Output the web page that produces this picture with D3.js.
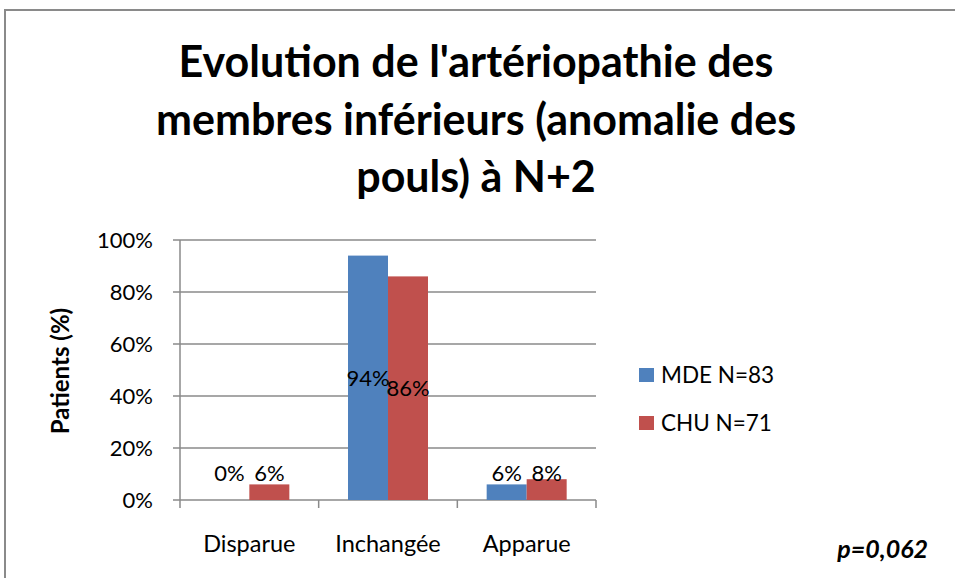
<!DOCTYPE html>
<html>
<head>
<meta charset="utf-8">
<script src="https://cdn.jsdelivr.net/npm/d3@7"></script>
<style>
  body { margin: 0; background: #fff; }
  svg text { font-family: Lato, "Open Sans", sans-serif; fill: #000; }
</style>
</head>
<body>
<svg id="chart" width="955" height="578"></svg>
<script>
// données
var categories = ["Disparue", "Inchangée", "Apparue"];
var seriesNames = ["MDE N=83", "CHU N=71"];
var mdeValues = [0, 0.94, 0.06];
var chuValues = [0.06, 0.86, 0.08];
var yTicks = [0, 0.2, 0.4, 0.6, 0.8, 1];
var titleLines = ["Evolution de l'artériopathie des", "membres inférieurs (anomalie des", "pouls) à N+2"];

var colors = ["#4F81BD", "#C0504D"];

var svg = d3.select("#chart");

// cadre du graphique (coupé à droite et en bas)
svg.append("rect")
    .attr("x", 5).attr("y", 10)
    .attr("width", 1000).attr("height", 700)
    .attr("fill", "none")
    .attr("stroke", "#8a8a8a")
    .attr("stroke-width", 2);

// titre
svg.append("g").selectAll("text")
    .data(titleLines)
    .enter().append("text")
    .attr("x", 476)
    .attr("y", function (d, i) { return 77 + i * 57.5; })
    .attr("text-anchor", "middle")
    .attr("font-size", 43)
    .attr("font-weight", "bold")
    .text(function (d) { return d; });

var plot = { left: 180, right: 596, top: 240, bottom: 500 };

var x0 = d3.scaleBand().domain(categories).range([plot.left, plot.right]).paddingInner(0).paddingOuter(0);
var x1 = d3.scaleBand().domain(d3.range(seriesNames.length)).range([0, 80]);
var y = d3.scaleLinear().domain([0, 1]).range([plot.bottom, plot.top]);

// grille
svg.append("g").selectAll("line")
    .data(yTicks)
    .enter().append("line")
    .attr("x1", plot.left - 7).attr("x2", plot.right)
    .attr("y1", function (d) { return y(d); })
    .attr("y2", function (d) { return y(d); })
    .attr("stroke", "#8a8a8a")
    .attr("stroke-width", 1.5);

// axe vertical
svg.append("line")
    .attr("x1", plot.left).attr("x2", plot.left)
    .attr("y1", plot.top).attr("y2", plot.bottom + 8)
    .attr("stroke", "#8a8a8a").attr("stroke-width", 1.5);

// graduations de l'axe des catégories
var catEdges = categories.map(function (c) { return x0(c); }).concat([plot.right]);
svg.append("g").selectAll("line")
    .data(catEdges.slice(1))
    .enter().append("line")
    .attr("x1", function (d) { return d; }).attr("x2", function (d) { return d; })
    .attr("y1", plot.bottom).attr("y2", plot.bottom + 8)
    .attr("stroke", "#8a8a8a").attr("stroke-width", 1.5);

// étiquettes de l'axe y
svg.append("g").selectAll("text")
    .data(yTicks)
    .enter().append("text")
    .attr("x", 153)
    .attr("y", function (d) { return y(d) + 8; })
    .attr("text-anchor", "end")
    .attr("font-size", 22)
    .text(function (d) { return d3.format(".0%")(d); });

// titre de l'axe y
svg.append("text")
    .attr("transform", "translate(69,371) rotate(-90)")
    .attr("text-anchor", "middle")
    .attr("font-size", 24)
    .attr("font-weight", "bold")
    .text("Patients (%)");

// étiquettes des catégories
svg.append("g").selectAll("text")
    .data(categories)
    .enter().append("text")
    .attr("x", function (d) { return x0(d) + x0.bandwidth() / 2; })
    .attr("y", 552)
    .attr("text-anchor", "middle")
    .attr("font-size", 23.5)
    .text(function (d) { return d; });

// barres
var rows = categories.map(function (c, i) {
    return { cat: c, values: [mdeValues[i], chuValues[i]] };
});

var groups = svg.append("g").selectAll("g")
    .data(rows)
    .enter().append("g")
    .attr("transform", function (d) {
        return "translate(" + (x0(d.cat) + (x0.bandwidth() - 80) / 2) + ",0)";
    });

groups.selectAll("rect")
    .data(function (d) { return d.values; })
    .enter().append("rect")
    .attr("x", function (d, i) { return x1(i); })
    .attr("y", function (d) { return y(d); })
    .attr("width", x1.bandwidth())
    .attr("height", function (d) { return plot.bottom - y(d); })
    .attr("fill", function (d, i) { return colors[i]; });

// étiquettes : au milieu pour les grandes barres, au-dessus sinon
groups.selectAll("text")
    .data(function (d) { return d.values; })
    .enter().append("text")
    .attr("x", function (d, i) { return x1(i) + x1.bandwidth() / 2; })
    .attr("y", function (d) {
        return d > 0.5 ? (y(d) + plot.bottom) / 2 + 8 : plot.bottom - 19;
    })
    .attr("text-anchor", "middle")
    .attr("font-size", 22)
    .text(function (d) { return d3.format(".0%")(d); });

// légende
var legend = svg.append("g").selectAll("g")
    .data(seriesNames)
    .enter().append("g")
    .attr("transform", function (d, i) { return "translate(639," + (368 + i * 48) + ")"; });
legend.append("rect")
    .attr("width", 15).attr("height", 14)
    .attr("fill", function (d, i) { return colors[i]; });
legend.append("text")
    .attr("x", 22).attr("y", 15)
    .attr("font-size", 22.5)
    .text(function (d) { return d; });

// valeur de p
svg.append("text")
    .attr("x", 928).attr("y", 558)
    .attr("text-anchor", "end")
    .attr("font-size", 25)
    .attr("font-weight", "bold")
    .attr("font-style", "italic")
    .text("p=0,062");
</script>
</body>
</html>
